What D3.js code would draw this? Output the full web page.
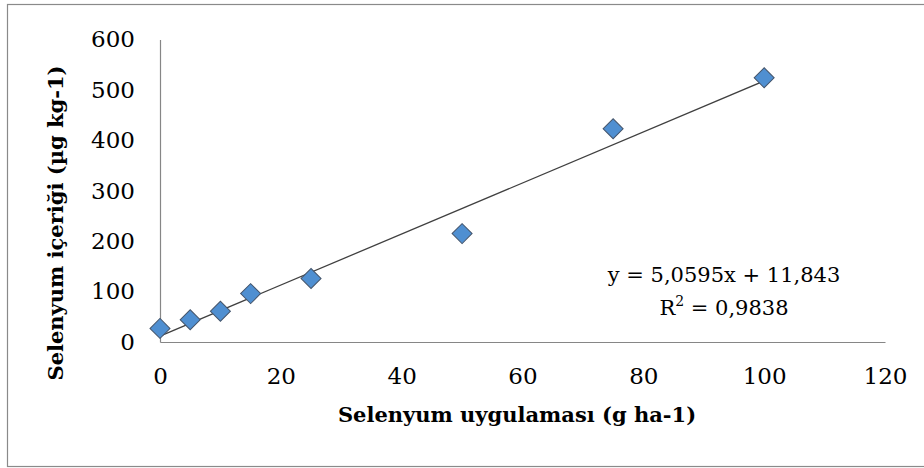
<!DOCTYPE html>
<html>
<head>
<meta charset="utf-8">
<script src="https://cdn.jsdelivr.net/npm/d3@7"></script>
<style>
  body { margin: 0; background: #fff; }
  .axis text { font-family: "DejaVu Serif", serif; font-size: 23px; fill: #000; }
  .axis path { stroke: #868686; stroke-width: 1.2; }
  .title { font-family: "DejaVu Serif", serif; font-weight: bold; font-size: 21px; fill: #000; }
  .eq { font-family: "DejaVu Serif", serif; font-size: 21px; fill: #000; }
</style>
</head>
<body>
<div id="chart"></div>
<script>
// Selenium application (g/ha) vs selenium content (ug/kg)
const doses = [0, 5, 10, 15, 25, 50, 75, 100];
const contents = [27, 44, 61, 96, 126, 215, 423, 524];
const xTicks = [0, 20, 40, 60, 80, 100, 120];
const yTicks = [0, 100, 200, 300, 400, 500, 600];

// trendline from the equation shown on the chart
const slope = 5.0595;
const intercept = 11.843;
const eqText = "y = 5,0595x + 11,843";
const r2Text = " = 0,9838";

const xTitle = "Selenyum uygulaması (g ha-1)";
const yTitle = "Selenyum içeriği (µg kg-1)";

const width = 924, height = 468;

const svg = d3.select("#chart").append("svg")
    .attr("width", width)
    .attr("height", height);

// outer frame
svg.append("rect")
    .attr("x", 7.5).attr("y", 4.5)
    .attr("width", width)
    .attr("height", 462)
    .attr("fill", "#fff")
    .attr("stroke", "#8a8a8a")
    .attr("stroke-width", 1.2);

const x = d3.scaleLinear().domain([0, 120]).range([160, 885]);
const y = d3.scaleLinear().domain([0, 600]).range([342, 39.5]);

svg.append("g")
    .attr("class", "axis")
    .attr("transform", `translate(${x(0)},0)`)
    .call(d3.axisLeft(y).tickValues(yTicks).tickSize(0).tickPadding(25));

svg.append("g")
    .attr("class", "axis")
    .attr("transform", `translate(0,${y(0)})`)
    .call(d3.axisBottom(x).tickValues(xTicks).tickSize(0).tickPadding(26));

// linear trendline
const lineX = d3.extent(doses);
svg.append("line")
    .attr("x1", x(lineX[0])).attr("y1", y(intercept + slope * lineX[0]))
    .attr("x2", x(lineX[1])).attr("y2", y(intercept + slope * lineX[1]))
    .attr("stroke", "#404040")
    .attr("stroke-width", 1.3);

// diamond markers
const diamond = d3.symbol().type(d3.symbolSquare).size(200);
svg.selectAll(".pt")
    .data(doses.map((d, i) => ({ d, v: contents[i] })))
  .enter().append("path")
    .attr("class", "pt")
    .attr("d", diamond)
    .attr("transform", p => `translate(${x(p.d)},${y(p.v)}) rotate(45)`)
    .attr("fill", "#4f8fd1")
    .attr("stroke", "#44546a")
    .attr("stroke-width", 1);

// equation label
svg.append("text")
    .attr("class", "eq")
    .attr("x", 724).attr("y", 282)
    .attr("text-anchor", "middle")
    .text(eqText);

const r2 = svg.append("text")
    .attr("class", "eq")
    .attr("x", 724).attr("y", 315)
    .attr("text-anchor", "middle");
r2.append("tspan").text("R");
r2.append("tspan").attr("font-size", "14px").attr("dy", -9).text("2");
r2.append("tspan").attr("dy", 9).text(r2Text);

// axis titles
svg.append("text")
    .attr("class", "title")
    .attr("x", 517).attr("y", 422)
    .attr("text-anchor", "middle")
    .text(xTitle);

svg.append("text")
    .attr("class", "title")
    .attr("transform", "translate(63,223) rotate(-90)")
    .attr("text-anchor", "middle")
    .text(yTitle);
</script>
</body>
</html>
